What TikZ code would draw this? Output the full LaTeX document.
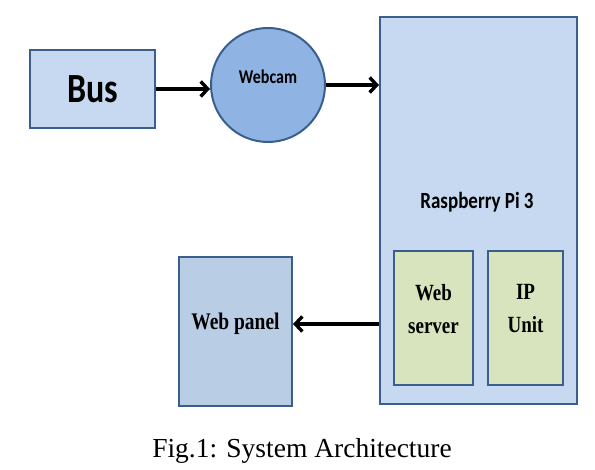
\documentclass[tikz,border=0pt]{standalone}
\usepackage{fontspec}
\setmainfont{Liberation Serif}
\newfontfamily\calibri{Carlito}
\usepackage{xcolor}
\usepackage{graphicx}
\usetikzlibrary{arrows.meta,positioning}
\definecolor{boxfill}{HTML}{C6D9F1}
\definecolor{boxline}{HTML}{3A5F8C}
\definecolor{camfill}{HTML}{8FB4E3}
\definecolor{panelfill}{HTML}{B9CDE5}
\definecolor{unitfill}{HTML}{D7E4BD}
\newcommand\tall[1]{\scalebox{1}[1.22]{#1}}

\begin{document}
\begin{tikzpicture}[y=-1pt,x=1pt,
	blk/.style={draw=boxline, line width=2pt, fill=boxfill, inner sep=0pt},
	unittxt/.style={align=center, font=\bfseries\fontsize{19}{33}\selectfont},
	flow/.style={line width=3.4pt, -{Straight Barb[length=7pt,width=15pt,line width=3.4pt]}}]
	\useasboundingbox (0,0) rectangle (595,470);

	\node[blk, minimum width=125pt, minimum height=78pt, font=\calibri\bfseries\fontsize{34}{40}\selectfont] (bus) at (92.5,89) {\tall{Bus}};
	\node[blk, circle, fill=camfill, minimum size=114pt] (cam) at (268,85) {};
	\node[font=\calibri\bfseries\fontsize{16}{18}\selectfont] (camtxt) at (268,77) {\tall{Webcam}};

	\node[blk, minimum width=197pt, minimum height=387pt] (rpi) at (478.5,210.5) {};
	\node[font=\calibri\bfseries\fontsize{19}{22}\selectfont] (rpitxt) at (477,202) {\tall{Raspberry Pi 3}};

	\node[blk, fill=unitfill, minimum width=79pt, minimum height=134pt] (srv) at (433.5,318) {};
	\node[unittxt] (srvtxt) at (433.5,309) {\tall{Web}\\\tall{server}};
	\node[blk, fill=unitfill, minimum width=75pt, minimum height=134pt] (ip) at (525.5,318) {};
	\node[unittxt] (iptxt) at (525.5,309) {\tall{IP}\\\tall{Unit}};

	\node[blk, fill=panelfill, minimum width=113pt, minimum height=149pt] (panel) at (235.5,331.5) {};
	\node[font=\bfseries\fontsize{19.5}{24}\selectfont] (paneltxt) at (235.5,324) {\tall{Web panel}};

	\draw[flow] (bus.east) -- (cam.west |- bus.east);
	\draw[flow] (cam.east) -- (rpi.west |- cam.east);
	\draw[flow] (rpi.west |- paneltxt) -- (panel.east |- paneltxt);

	\node[font=\fontsize{27.5}{30}\selectfont] (cap) at (302,451) {Fig.1: System Architecture};
\end{tikzpicture}
\end{document}
